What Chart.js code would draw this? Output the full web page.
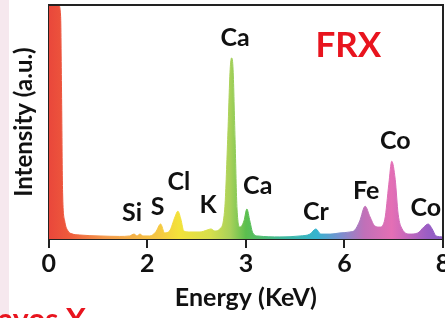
<!DOCTYPE html>
<html>
<head>
<meta charset="utf-8">
<script src="https://cdn.jsdelivr.net/npm/chart.js@4"></script>
<style>
  html, body { margin: 0; padding: 0; background: #fff; overflow: hidden; width: 445px; height: 318px; }
  #wrap { position: relative; width: 470px; height: 318px; }
  #strip { position: absolute; left: 0; top: 0; width: 9px; height: 318px; background: #f6e8ee; }
  #frag { position: absolute; left: -2px; top: 303px; font-family: Lato, sans-serif; font-weight: bold; font-size: 30px; line-height: 30px; color: #e8141e; white-space: nowrap; }
  canvas { position: absolute; left: 0; top: 0; }
</style>
</head>
<body>
<div id="wrap">
  <div id="strip"></div>
  <canvas id="xrf" width="470" height="318"></canvas>
  <div id="frag">ayos X</div>
</div>
<script>
// spectrum (energy axis units, intensity in % of full scale)
const energy = [
  0, 0.12, 0.20, 0.24, 0.26, 0.28, 0.32, 0.39, 0.47, 0.63,
  1.04, 1.44, 1.64, 1.73, 1.79, 1.85, 1.91, 2.05, 2.17, 2.27,
  2.35, 2.45, 2.56, 2.62, 2.68, 2.74, 2.86, 3.07, 3.21, 3.29,
  3.37, 3.47, 3.57, 3.63, 3.68, 3.71, 3.74, 3.78, 3.82, 3.88,
  3.96, 4.02, 4.08, 4.14, 4.24, 4.69, 5.10, 5.30, 5.42, 5.52,
  5.71, 5.91, 6.11, 6.21, 6.31, 6.42, 6.52, 6.62, 6.72, 6.82,
  6.90, 6.96, 7.03, 7.09, 7.17, 7.33, 7.49, 7.61, 7.70, 7.78,
  7.86, 8.0
];
const intensity = [
  100, 100, 100, 95, 60, 20, 8, 3.4, 2.2, 1.7,
  1.3, 1.1, 1.3, 2.1, 1.3, 2.1, 1.3, 1.3, 3.0, 6.4,
  2.6, 3.4, 9.4, 11.9, 8.5, 3.4, 3.0, 3.0, 3.8, 4.3,
  3.4, 4.3, 12.8, 42.6, 72.3, 77.4, 72.3, 42.6, 12.8, 5.1,
  7.7, 12.8, 7.7, 2.6, 1.3, 0.9, 1.3, 2.1, 4.3, 2.1,
  2.1, 2.6, 3.0, 3.8, 7.7, 14.0, 9.4, 5.5, 5.1, 8.5,
  23.4, 33.2, 25.5, 10.6, 4.3, 2.1, 2.6, 5.1, 6.4, 4.3,
  1.3, 0.9
];

const tickValues = [0, 2, 4, 6, 8];
const tickLabels = ['0', '2', '3', '6', '8'];

// element labels placed over their peaks
const peakNames = ['Si', 'S', 'Cl', 'K', 'Ca', 'Ca', 'Cr', 'Fe', 'Co', 'Co'];
const peakLabelE = [1.69, 2.21, 2.64, 3.23, 3.78, 4.24, 5.42, 6.44, 7.03, 7.65];
const peakLabelY = [11, 13.6, 24.3, 14.5, 86, 22.6, 11.5, 20.4, 41.7, 13.2];

// rainbow fill across the energy range
function rainbow(context) {
  const { ctx, chartArea } = context.chart;
  if (!chartArea) return '#e9473b';
  const g = ctx.createLinearGradient(chartArea.left, 0, chartArea.right, 0);
  g.addColorStop(0.00, '#e9473b');
  g.addColorStop(0.05, '#ee5a3c');
  g.addColorStop(0.14, '#f3974a');
  g.addColorStop(0.28, '#f5c842');
  g.addColorStop(0.33, '#f3e23a');
  g.addColorStop(0.41, '#d6df4c');
  g.addColorStop(0.46, '#a9d15a');
  g.addColorStop(0.50, '#5cbf4e');
  g.addColorStop(0.59, '#40b89a');
  g.addColorStop(0.68, '#36b3cf');
  g.addColorStop(0.74, '#7a8fd0');
  g.addColorStop(0.80, '#c070b8');
  g.addColorStop(0.87, '#e46fb5');
  g.addColorStop(0.96, '#9b5ec4');
  g.addColorStop(1.00, '#8a5cc4');
  return g;
}

const overlay = {
  id: 'overlay',
  afterDatasetsDraw(chart) {
    const { ctx, chartArea: a, scales: { x, y } } = chart;
    ctx.save();
    // top and right frame
    ctx.strokeStyle = '#222';
    ctx.lineWidth = 2;
    ctx.beginPath();
    ctx.moveTo(a.left, a.top);
    ctx.lineTo(a.right, a.top);
    ctx.lineTo(a.right, a.bottom);
    ctx.stroke();

    ctx.textAlign = 'center';
    ctx.textBaseline = 'middle';
    ctx.font = 'bold 25px Lato';
    ctx.fillStyle = '#111';
    peakNames.forEach((name, i) => {
      ctx.fillText(name, x.getPixelForValue(peakLabelE[i]), y.getPixelForValue(peakLabelY[i]));
    });

    ctx.font = 'bold 35px Lato';
    ctx.fillStyle = '#e8141e';
    ctx.fillText('FRX', a.left + a.width * 0.76, a.top + 41);
    ctx.restore();
  }
};

new Chart(document.getElementById('xrf'), {
  type: 'line',
  data: {
    datasets: [{
      data: energy.map((e, i) => ({ x: e, y: intensity[i] })),
      fill: 'origin',
      backgroundColor: rainbow,
      borderColor: rainbow,
      borderWidth: 1,
      pointRadius: 0,
      cubicInterpolationMode: 'monotone'
    }]
  },
  options: {
    responsive: false,
    animation: false,
    layout: { padding: { left: 6, right: 27, top: 5, bottom: 2 } },
    plugins: { legend: { display: false }, tooltip: { enabled: false } },
    scales: {
      x: {
        type: 'linear',
        min: 0,
        max: 8,
        afterBuildTicks: scale => { scale.ticks = tickValues.map(v => ({ value: v })); },
        grid: { drawOnChartArea: false, tickLength: 9, tickColor: '#222', lineWidth: 2 },
        border: { color: '#222', width: 2 },
        ticks: {
          font: { family: 'Lato', size: 25, weight: 'bold' },
          color: '#111',
          padding: 1,
          maxRotation: 0,
          callback: (v, i) => tickLabels[i]
        },
        title: {
          display: true,
          text: 'Energy (KeV)',
          font: { family: 'Lato', size: 25, weight: 'bold' },
          color: '#111',
          padding: { top: 3, bottom: 3 }
        }
      },
      y: {
        min: 0,
        max: 100,
        grid: { display: false, drawTicks: false },
        border: { color: '#222', width: 2 },
        ticks: { display: false },
        title: {
          display: true,
          text: 'Intensity (a.u.)',
          font: { family: 'Lato', size: 24, weight: 'bold' },
          color: '#111',
          padding: { top: 4, bottom: 10 }
        }
      }
    }
  },
  plugins: [overlay]
});
</script>
</body>
</html>
